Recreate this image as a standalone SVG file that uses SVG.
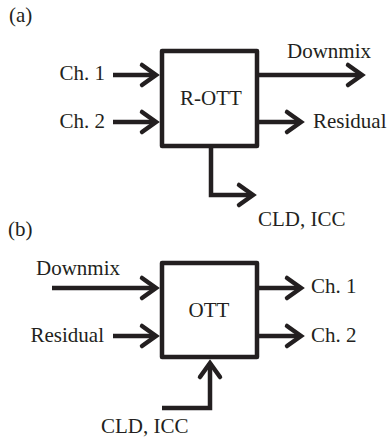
<svg xmlns="http://www.w3.org/2000/svg" width="387" height="439" viewBox="0 0 387 439">
<style>
text{font-family:"Liberation Serif","Times New Roman",serif;font-size:21px;fill:#231f20}
.box{fill:#fff;stroke:#231f20;stroke-width:4.5;stroke-linejoin:round}
.con{fill:none;stroke:#231f20;stroke-width:4.5}
</style>
<defs>
<marker id="ah" markerUnits="userSpaceOnUse" viewBox="-20 -14 26 28" refX="0" refY="0" markerWidth="26" markerHeight="28" orient="auto" overflow="visible">
<path d="M-14,-10 L0,0 L-14,10" fill="none" stroke="#231f20" stroke-width="4.5" stroke-linecap="round"/>
</marker>
</defs>
<rect width="387" height="439" fill="#fff"/>
<text x="9" y="22">(a)</text>
<text x="8" y="236">(b)</text>
<g id="rott">
<rect class="box" x="162" y="51" width="95" height="95"/>
<text x="211" y="105" text-anchor="middle">R-OTT</text>
</g>
<g id="ott">
<rect class="box" x="162" y="263" width="95" height="94"/>
<text x="209" y="317" text-anchor="middle">OTT</text>
</g>
<g id="labels">
<text x="105" y="80" text-anchor="end">Ch. 1</text>
<text x="105" y="128" text-anchor="end">Ch. 2</text>
<text x="287" y="58">Downmix</text>
<text x="313" y="128">Residual</text>
<text x="258" y="226">CLD, ICC</text>
<text x="36" y="275">Downmix</text>
<text x="104" y="342" text-anchor="end">Residual</text>
<text x="311" y="293">Ch. 1</text>
<text x="311" y="342">Ch. 2</text>
<text x="101" y="433">CLD, ICC</text>
</g>
<g id="connectors" class="con">
<path d="M113,75 H156" marker-end="url(#ah)"/>
<path d="M113,122 H156" marker-end="url(#ah)"/>
<path d="M259,75 H362" marker-end="url(#ah)"/>
<path d="M259,122 H301" marker-end="url(#ah)"/>
<path d="M211,148 V195 H253" marker-end="url(#ah)"/>
<path d="M52,288 H156" marker-end="url(#ah)"/>
<path d="M113,336 H156" marker-end="url(#ah)"/>
<path d="M259,288 H301" marker-end="url(#ah)"/>
<path d="M259,336 H301" marker-end="url(#ah)"/>
<path d="M162,408 H210 V363" marker-end="url(#ah)"/>
</g>
</svg>
